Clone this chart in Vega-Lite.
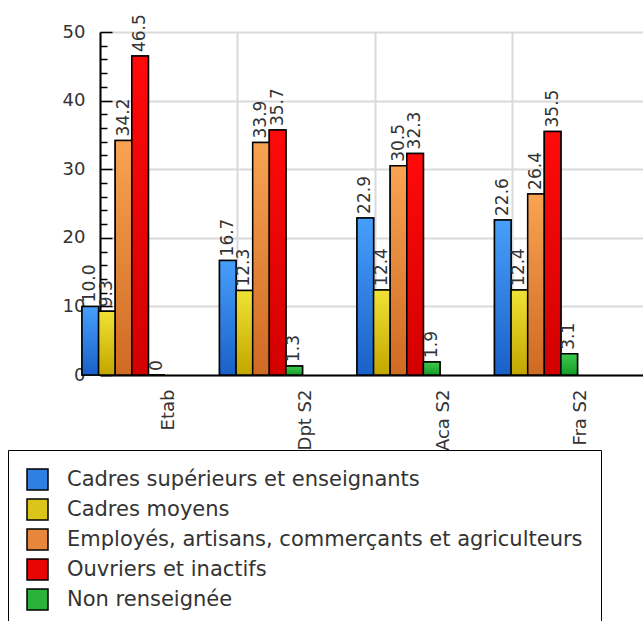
{
  "$schema": "https://vega.github.io/schema/vega-lite/v6.json",
  "width": 550,
  "height": 343,
  "autosize": {"type": "none"},
  "padding": {"left": 100, "top": 32, "right": 0, "bottom": 250},
  "background": "white",
  "config": {
    "view": {"stroke": null},
    "font": "DejaVu Sans"
  },
  "data": {
    "values": [
      {"grp": "Etab", "cat": "Cadres supérieurs et enseignants", "value": 10.0, "label": "10.0"},
      {"grp": "Etab", "cat": "Cadres moyens", "value": 9.3, "label": "9.3"},
      {"grp": "Etab", "cat": "Employés, artisans, commerçants et agriculteurs", "value": 34.2, "label": "34.2"},
      {"grp": "Etab", "cat": "Ouvriers et inactifs", "value": 46.5, "label": "46.5"},
      {"grp": "Etab", "cat": "Non renseignée", "value": 0, "label": "0"},
      {"grp": "Dpt S2", "cat": "Cadres supérieurs et enseignants", "value": 16.7, "label": "16.7"},
      {"grp": "Dpt S2", "cat": "Cadres moyens", "value": 12.3, "label": "12.3"},
      {"grp": "Dpt S2", "cat": "Employés, artisans, commerçants et agriculteurs", "value": 33.9, "label": "33.9"},
      {"grp": "Dpt S2", "cat": "Ouvriers et inactifs", "value": 35.7, "label": "35.7"},
      {"grp": "Dpt S2", "cat": "Non renseignée", "value": 1.3, "label": "1.3"},
      {"grp": "Aca S2", "cat": "Cadres supérieurs et enseignants", "value": 22.9, "label": "22.9"},
      {"grp": "Aca S2", "cat": "Cadres moyens", "value": 12.4, "label": "12.4"},
      {"grp": "Aca S2", "cat": "Employés, artisans, commerçants et agriculteurs", "value": 30.5, "label": "30.5"},
      {"grp": "Aca S2", "cat": "Ouvriers et inactifs", "value": 32.3, "label": "32.3"},
      {"grp": "Aca S2", "cat": "Non renseignée", "value": 1.9, "label": "1.9"},
      {"grp": "Fra S2", "cat": "Cadres supérieurs et enseignants", "value": 22.6, "label": "22.6"},
      {"grp": "Fra S2", "cat": "Cadres moyens", "value": 12.4, "label": "12.4"},
      {"grp": "Fra S2", "cat": "Employés, artisans, commerçants et agriculteurs", "value": 26.4, "label": "26.4"},
      {"grp": "Fra S2", "cat": "Ouvriers et inactifs", "value": 35.5, "label": "35.5"},
      {"grp": "Fra S2", "cat": "Non renseignée", "value": 3.1, "label": "3.1"}
    ]
  },
  "encoding": {
    "x": {
      "field": "grp", "type": "nominal",
      "sort": ["Etab", "Dpt S2", "Aca S2", "Fra S2"],
      "scale": {"paddingInner": 0, "paddingOuter": 0},
      "axis": {
        "title": null, "labelAngle": -90, "ticks": false,
        "domainColor": "black", "domainWidth": 2,
        "grid": true, "bandPosition": 0, "gridColor": "#d9d9d9", "gridWidth": 2,
        "labelFont": "DejaVu Sans", "labelFontSize": 18, "labelColor": "#333", "labelPadding": 14
      }
    },
    "xOffset": {
      "field": "cat", "type": "nominal",
      "sort": ["Cadres supérieurs et enseignants", "Cadres moyens", "Employés, artisans, commerçants et agriculteurs", "Ouvriers et inactifs", "Non renseignée"],
      "scale": {"range": [-18, 65], "paddingInner": 0, "paddingOuter": 0}
    },
    "y": {
      "field": "value", "type": "quantitative",
      "scale": {"domain": [0, 50], "nice": false},
      "axis": {
        "title": null,
        "values": [0, 2, 4, 6, 8, 10, 12, 14, 16, 18, 20, 22, 24, 26, 28, 30, 32, 34, 36, 38, 40, 42, 44, 46, 48, 50],
        "labelExpr": "datum.value % 10 === 0 ? datum.label : ''",
        "tickSize": {"condition": {"test": "datum.value % 10 === 0", "value": -12}, "value": -7},
        "tickColor": "black", "tickWidth": 1.5,
        "gridOpacity": {"condition": {"test": "datum.value % 10 === 0", "value": 1}, "value": 0},
        "gridColor": "#d9d9d9", "gridWidth": 2,
        "domainColor": "black", "domainWidth": 2,
        "labelFont": "DejaVu Sans", "labelFontSize": 18, "labelColor": "#333", "labelPadding": 27
      }
    }
  },
  "layer": [
    {
      "mark": {"type": "bar", "stroke": "black", "strokeWidth": 1.5},
      "encoding": {
        "color": {
          "field": "cat", "type": "nominal",
          "sort": ["Cadres supérieurs et enseignants", "Cadres moyens", "Employés, artisans, commerçants et agriculteurs", "Ouvriers et inactifs", "Non renseignée"],
          "scale": {
            "domain": ["Cadres supérieurs et enseignants", "Cadres moyens", "Employés, artisans, commerçants et agriculteurs", "Ouvriers et inactifs", "Non renseignée"],
            "range": ["#2f80e2", "#dcc51b", "#e8873b", "#ea0505", "#2ab33b"]
          },
          "legend": {
            "orient": "none", "legendX": -92, "legendY": 418,
            "title": null, "direction": "vertical",
            "strokeColor": "black", "fillColor": "white", "padding": 18,
            "symbolType": "square", "symbolSize": 441, "symbolStrokeColor": "black", "symbolStrokeWidth": 1.5,
            "symbolOpacity": 1,
            "labelFont": "DejaVu Sans", "labelFontSize": 21, "labelColor": "#333", "labelOffset": 18,
            "labelLimit": 1000, "rowPadding": 3
          }
        }
      }
    },
    {
      "mark": {"type": "bar", "stroke": "black", "strokeWidth": 1.5},
      "encoding": {
        "fill": {
          "condition": [
            {"test": "datum.cat === 'Cadres supérieurs et enseignants'", "value": {"gradient": "linear", "x1": 0, "y1": 0, "x2": 0, "y2": 1, "stops": [{"offset": 0, "color": "#479ffa"}, {"offset": 1, "color": "#1a60c8"}]}},
            {"test": "datum.cat === 'Cadres moyens'", "value": {"gradient": "linear", "x1": 0, "y1": 0, "x2": 0, "y2": 1, "stops": [{"offset": 0, "color": "#f0e235"}, {"offset": 1, "color": "#c2a600"}]}},
            {"test": "datum.cat === 'Employés, artisans, commerçants et agriculteurs'", "value": {"gradient": "linear", "x1": 0, "y1": 0, "x2": 0, "y2": 1, "stops": [{"offset": 0, "color": "#f8a352"}, {"offset": 1, "color": "#cf6a22"}]}},
            {"test": "datum.cat === 'Ouvriers et inactifs'", "value": {"gradient": "linear", "x1": 0, "y1": 0, "x2": 0, "y2": 1, "stops": [{"offset": 0, "color": "#ff0a0a"}, {"offset": 1, "color": "#d20000"}]}}
          ],
          "value": {"gradient": "linear", "x1": 0, "y1": 0, "x2": 0, "y2": 1, "stops": [{"offset": 0, "color": "#3fca4c"}, {"offset": 1, "color": "#139c2a"}]}
        }
      }
    },
    {
      "mark": {"type": "text", "angle": -90, "align": "left", "baseline": "middle", "dx": 4, "font": "DejaVu Sans", "fontSize": 17, "color": "#333"},
      "encoding": {
        "text": {"field": "label", "type": "nominal"}
      }
    }
  ]
}
